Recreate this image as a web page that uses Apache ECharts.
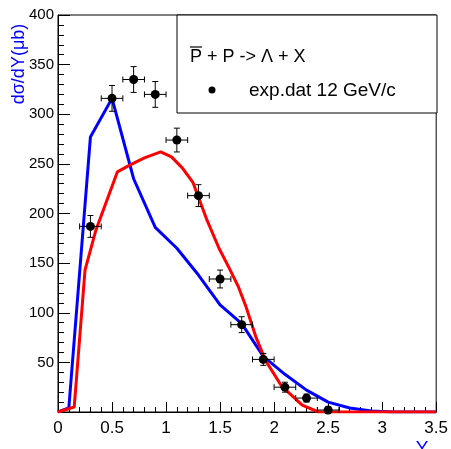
<!DOCTYPE html>
<html><head><meta charset="utf-8">
<script src="https://cdn.jsdelivr.net/npm/echarts@6/dist/echarts.min.js"></script>
<style>html,body{margin:0;padding:0;background:#fff}#c{width:451px;height:449px}</style>
</head><body><div id="c"></div>
<script>
// Experimental data (exp.dat 12 GeV/c)
var expX    = [0.3, 0.5, 0.7, 0.9, 1.1, 1.3, 1.5, 1.7, 1.9, 2.1, 2.3, 2.5];
var expY    = [187, 316, 335, 320, 274, 218, 134, 88, 53, 25, 14, 2];
var expXErr = [0.1, 0.1, 0.1, 0.1, 0.1, 0.1, 0.1, 0.1, 0.1, 0.1, 0.1, 0.1];
var expYErr = [11, 13, 13, 13, 12, 11, 9, 8, 6, 5, 4, 3];
// Blue model curve
var blueX = [0, 0.1, 0.3, 0.5, 0.7, 0.9, 1.1, 1.3, 1.5, 1.7, 1.9, 2.1, 2.3, 2.5, 2.7, 2.9, 3.1, 3.5];
var blueY = [0, 4, 277, 316, 235, 186, 165, 138, 108, 89, 56, 38, 22, 10, 4, 1, 0, 0];
// Red model curve
var redX = [0, 0.15, 0.25, 0.35, 0.55, 0.65, 0.8, 0.95, 1.05, 1.15, 1.25, 1.38, 1.49, 1.58, 1.67, 1.74, 1.83, 1.92, 2.07, 2.26, 2.41, 3.5];
var redY = [0, 5, 143, 183, 242, 248, 256, 262, 257, 246, 231, 193, 165, 146, 126, 106, 76, 52, 26, 7, 0, 0];
// Axis ticks
var yMin = 0, yMax = 400, yStep = 50;
var xMin = 0, xMax = 3.5, xStep = 0.5;
var legendTitle = 'P + P -> \u039b + X';
var legendLabel = 'exp.dat 12 GeV/c';
var yTitle = 'd\u03c3/dY(\u03bcb)';
var xTitle = 'Y';

function zip(a, b) { return a.map(function (v, i) { return [v, b[i]]; }); }
var errData = expX.map(function (x, i) { return [x, expY[i], expXErr[i], expYErr[i]]; });

var chart = echarts.init(document.getElementById('c'), null, {renderer: 'canvas'});
var font = 'Liberation Sans, Arial, sans-serif';
chart.setOption({
  animation: false,
  backgroundColor: '#fff',
  grid: {left: 58, right: 14, top: 15, bottom: 37, show: true, borderColor: '#000', borderWidth: 1, backgroundColor: 'transparent'},
  xAxis: {
    type: 'value', min: xMin, max: xMax, interval: xStep,
    axisLine: {lineStyle: {color: '#000', width: 1}},
    axisTick: {inside: true, length: 10, lineStyle: {color: '#000'}},
    minorTick: {show: true, splitNumber: 5, length: 5, lineStyle: {color: '#000'}},
    splitLine: {show: false},
    axisLabel: {color: '#000', fontSize: 17, fontFamily: font, margin: 8,
      formatter: function (v) { return String(v); }}
  },
  yAxis: {
    type: 'value', min: yMin, max: yMax, interval: yStep,
    axisLine: {lineStyle: {color: '#000', width: 1}},
    axisTick: {inside: true, length: 12, lineStyle: {color: '#000'}},
    minorTick: {show: true, splitNumber: 5, length: 6, lineStyle: {color: '#000'}},
    splitLine: {show: false},
    axisLabel: {color: '#000', fontSize: 15, fontFamily: font, margin: 4,
      formatter: function (v) { return v === 0 ? '' : String(v); }}
  },
  graphic: [
    {type: 'rect', shape: {x: 177, y: 15, width: 260, height: 98}, style: {fill: '#fff', stroke: '#000', lineWidth: 1}, z: 10},
    {type: 'text', x: 190, y: 57, style: {text: legendTitle, font: '18px ' + font, fill: '#000', textVerticalAlign: 'middle'}, z: 11},
    {type: 'line', shape: {x1: 190, y1: 47, x2: 202, y2: 47}, style: {stroke: '#000', lineWidth: 1.2}, z: 11},
    {type: 'circle', shape: {cx: 212, cy: 90, r: 3.5}, style: {fill: '#000'}, z: 11},
    {type: 'text', x: 249, y: 91, style: {text: legendLabel, font: '19px ' + font, fill: '#000', textVerticalAlign: 'middle'}, z: 11},
    {type: 'text', x: 19, y: 64, rotation: Math.PI / 2, style: {text: yTitle, font: '18px ' + font, fill: '#0000ff', textAlign: 'center', textVerticalAlign: 'middle'}, z: 11},
    {type: 'text', x: 422, y: 439, style: {text: xTitle, font: '19px ' + font, fill: '#0000ff', textAlign: 'center', textVerticalAlign: 'top'}, z: 11}
  ],
  series: [
    {type: 'line', data: zip(blueX, blueY), symbol: 'none', lineStyle: {color: '#0000ff', width: 3}, z: 2},
    {type: 'line', data: zip(redX, redY), symbol: 'none', lineStyle: {color: '#ff0000', width: 3}, z: 3},
    {type: 'custom', z: 4, data: errData,
      renderItem: function (params, api) {
        var x = api.value(0), y = api.value(1), xe = api.value(2), ye = api.value(3);
        var l = api.coord([x - xe, y]), r = api.coord([x + xe, y]);
        var t = api.coord([x, y + ye]), b = api.coord([x, y - ye]);
        var st = {stroke: '#000', lineWidth: 1};
        var c = 3;
        return {type: 'group', children: [
          {type: 'line', shape: {x1: l[0], y1: l[1], x2: r[0], y2: r[1]}, style: st},
          {type: 'line', shape: {x1: l[0], y1: l[1] - c, x2: l[0], y2: l[1] + c}, style: st},
          {type: 'line', shape: {x1: r[0], y1: r[1] - c, x2: r[0], y2: r[1] + c}, style: st},
          {type: 'line', shape: {x1: t[0], y1: t[1], x2: b[0], y2: b[1]}, style: st},
          {type: 'line', shape: {x1: t[0] - c, y1: t[1], x2: t[0] + c, y2: t[1]}, style: st},
          {type: 'line', shape: {x1: b[0] - c, y1: b[1], x2: b[0] + c, y2: b[1]}, style: st}
        ]};
      }
    },
    {type: 'scatter', data: zip(expX, expY), symbol: 'circle', symbolSize: 9, itemStyle: {color: '#000', opacity: 1}, z: 5}
  ]
});
</script></body></html>
